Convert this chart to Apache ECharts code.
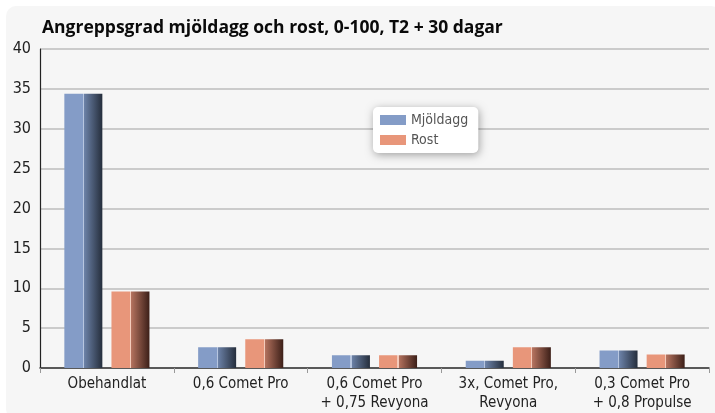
<!DOCTYPE html>
<html>
<head>
<meta charset="utf-8">
<script src="https://cdn.jsdelivr.net/npm/echarts@6/dist/echarts.min.js"></script>
<style>
  html, body { margin: 0; padding: 0; background: #ffffff; }
  #panel { position: absolute; left: 6px; top: 6px; width: 715px; height: 413px; background: #f6f6f6; border-radius: 10px; }
  #chart { position: absolute; left: 0; top: 0; width: 715px; height: 413px; }
</style>
</head>
<body>
<div id="panel"></div>
<div id="chart"></div>
<script>
const titleText = 'Angreppsgrad mjöldagg och rost, 0-100, T2 + 30 dagar';
const categories = ['Obehandlat', '0,6 Comet Pro', '0,6 Comet Pro\n+ 0,75 Revyona', '3x, Comet Pro,\nRevyona', '0,3 Comet Pro\n+ 0,8 Propulse'];
const seriesNames = ['Mjöldagg', 'Rost'];
const mjoldagg = [34.4, 2.6, 1.6, 0.9, 2.2];
const rost = [9.6, 3.6, 1.6, 2.6, 1.7];
const yMin = 0, yMax = 40, yStep = 5;

const condensed = '"Liberation Sans Narrow", "DejaVu Sans Condensed", "Roboto Condensed", sans-serif';

function barGradient(light, divider, mid, dark) {
  return new echarts.graphic.LinearGradient(0, 0, 1, 0, [
    { offset: 0, color: light },
    { offset: 0.485, color: light },
    { offset: 0.485, color: divider },
    { offset: 0.515, color: divider },
    { offset: 0.515, color: mid },
    { offset: 1, color: dark }
  ]);
}

const chart = echarts.init(document.getElementById('chart'), null, { renderer: 'canvas' });
chart.setOption({
  backgroundColor: 'transparent',
  animation: false,
  title: {
    text: titleText,
    left: 37,
    top: 14,
    textStyle: { fontFamily: '"Open Sans", sans-serif', fontWeight: 'bold', fontSize: 17.5, color: '#0a0a0a' }
  },
  legend: {
    orient: 'vertical',
    left: 373,
    top: 107,
    padding: [6, 10, 6, 7],
    itemWidth: 26,
    itemHeight: 10,
    itemGap: 6,
    backgroundColor: '#ffffff',
    borderRadius: 5,
    shadowBlur: 8,
    shadowColor: 'rgba(0,0,0,0.35)',
    shadowOffsetX: 1,
    shadowOffsetY: 2,
    textStyle: { fontFamily: condensed, fontSize: 14, color: '#555' },
    data: [
      { name: seriesNames[0], icon: 'rect', itemStyle: { color: '#849cc7' } },
      { name: seriesNames[1], icon: 'rect', itemStyle: { color: '#e8967a' } }
    ]
  },
  grid: { left: 40, right: 6, top: 49, bottom: 44, containLabel: false },
  xAxis: {
    type: 'category',
    data: categories,
    axisLine: { lineStyle: { color: '#333', width: 1.5 } },
    axisTick: { show: true, length: 5, lineStyle: { color: '#999' } },
    axisLabel: { interval: 0, fontFamily: condensed, fontSize: 15, color: '#222', lineHeight: 19, margin: 7 }
  },
  yAxis: {
    type: 'value',
    min: yMin, max: yMax, interval: yStep,
    axisLine: { show: true, lineStyle: { color: '#222', width: 1.2 } },
    axisTick: { show: false },
    axisLabel: { fontFamily: condensed, fontSize: 16, color: '#222', margin: 9 },
    splitLine: { lineStyle: { color: '#bdbdbd', width: 1.5 } }
  },
  series: [
    {
      name: seriesNames[0], type: 'bar', data: mjoldagg,
      barWidth: 38, barGap: '24%',
      itemStyle: { color: barGradient('#849cc7', '#b7c6e0', '#6d83a9', '#252e3c') }
    },
    {
      name: seriesNames[1], type: 'bar', data: rost,
      barWidth: 38,
      itemStyle: { color: barGradient('#e8967a', '#f4cbbb', '#b5735f', '#3c1f18') }
    }
  ]
});
</script>
</body>
</html>
